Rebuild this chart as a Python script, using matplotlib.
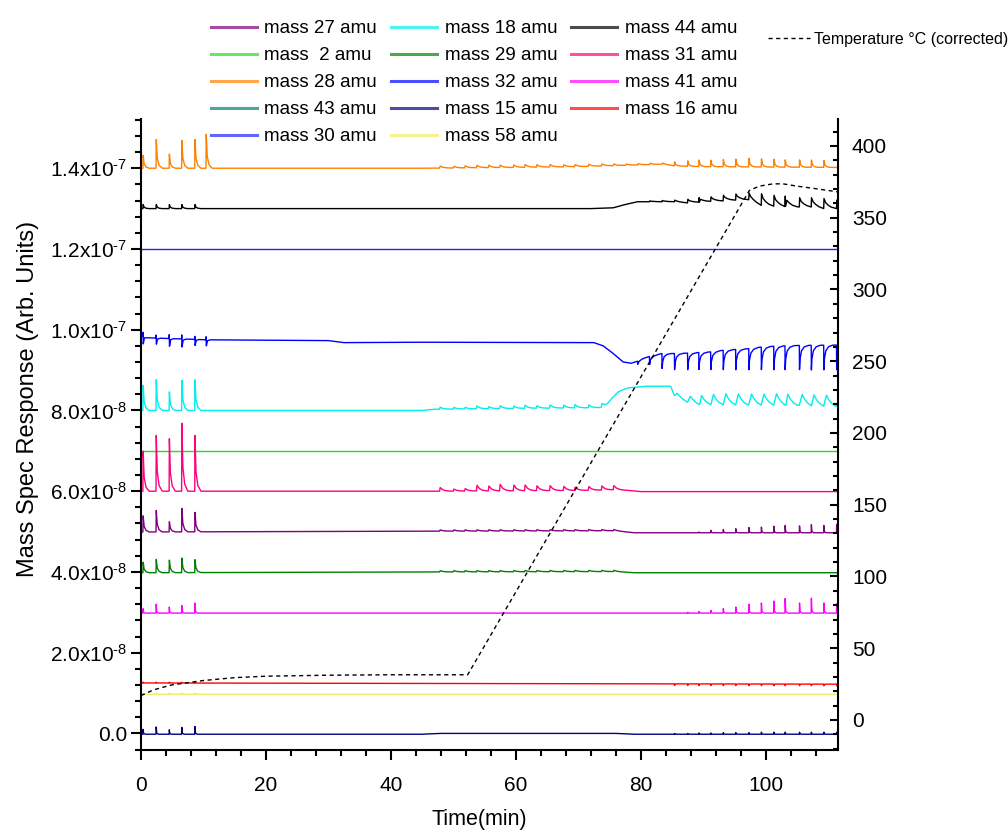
import numpy as np
import matplotlib
matplotlib.use("Agg")
import matplotlib.pyplot as plt
from matplotlib.lines import Line2D
from matplotlib.ticker import MultipleLocator, FuncFormatter

plt.rcParams['font.family'] = ['Liberation Sans', 'DejaVu Sans']
plt.rcParams['mathtext.fontset'] = 'custom'
plt.rcParams['mathtext.rm'] = 'Liberation Sans'
plt.rcParams['mathtext.default'] = 'regular'

# ---------------- data (signal values in units of 1e-8, time in min) ----------------
# injection pulse times
pulse_early = [0.3, 2.4, 4.5, 6.5, 8.6, 10.4]
pulse_run = [47.8, 50.0, 51.8, 53.7, 55.6, 57.4, 59.6, 61.4, 63.3, 65.4, 67.6, 69.4,
             71.6, 73.7, 75.6, 77.6, 79.5, 81.4, 83.4, 85.4, 87.5, 89.3, 91.2, 93.2,
             95.2, 97.3, 99.3, 101.3, 103.1, 105.4, 107.3, 109.3, 111.35]

# mass 28
m28_bt = [0, 45, 60, 70, 77, 83.4, 85.4, 90, 111.6]
m28_bv = [14.0, 14.0, 14.02, 14.04, 14.07, 14.1, 14.06, 14.04, 14.02]
m28_early = [0.32, 0.71, 0.35, 0.69, 0.71, 0.84]
m28_run = [0.05, 0.04, 0.05, 0.06, 0.06, 0.06, 0.06, 0.07, 0.06, 0.06, 0.05, 0.05,
           0.05, 0.05, 0.04, 0.03, 0.03, 0.03, 0.03,
           0.10, 0.13, 0.16, 0.16, 0.18, 0.19, 0.21, 0.20, 0.19, 0.18, 0.18, 0.18, 0.17]

# mass 44
m44_bt = [0, 45, 72, 75.6, 77.5, 79.5, 83.4, 85.4, 87.5, 89.3, 91.2, 93.2, 95.2,
          97.3, 99.3, 101.3, 103.1, 105.4, 107.3, 109.3, 111.35]
m44_bv = [13.0, 13.0, 13.0, 13.02, 13.1, 13.17, 13.17, 13.17, 13.14, 13.16, 13.18,
          13.19, 13.21, 13.22, 13.08, 13.06, 13.05, 13.04, 13.04, 13.0, 13.0]
m44_early = [0.1, 0.1, 0.1, 0.1, 0.1, 0.0]
m44_run = [0] * 15 + [0, 0, 0.02, 0.03,
                      0.04, 0.09, 0.11, 0.11, 0.14, 0.15, 0.17, 0.29, 0.27, 0.26,
                      0.23, 0.23, 0.25, 0.21]

# mass 30
m30_bt = [0, 111.6]
m30_bv = [12.0, 12.0]

# mass 32
m32_bt = [0, 1, 10.5, 30, 32.5, 45, 72.5, 74, 75.6, 77.2, 78.5, 79.5, 80.5, 83.4,
          85.4, 87.5, 91.2, 93.2, 97.3, 99.3, 101.3, 105.4, 111.6]
m32_bv = [9.86, 9.80, 9.75, 9.73, 9.68, 9.69, 9.68, 9.60, 9.41, 9.20, 9.17, 9.22,
          9.30, 9.41, 9.41, 9.42, 9.45, 9.49, 9.53, 9.57, 9.59, 9.61, 9.62]
m32_early = [-0.19, -0.15, -0.19, -0.20, -0.15, -0.15]
m32_run = [0] * 16 + [-0.08, -0.20, -0.37,
                      -0.40, -0.41, -0.42, -0.44, -0.48, -0.50, -0.52, -0.56, -0.58,
                      -0.59, -0.60, -0.61, -0.61, -0.61]

# mass 18
m18_bt = [0, 45, 47, 60, 73.5, 74.5, 75.5, 76.5, 78, 81, 84.8, 85.4, 87.4, 89.3,
          95, 105, 111.6]
m18_bv = [8.0, 8.0, 8.03, 8.05, 8.07, 8.12, 8.32, 8.47, 8.56, 8.60, 8.60, 8.37,
          8.21, 8.15, 8.14, 8.13, 8.10]
m18_early = [0.62, 0.76, 0.46, 0.75, 0.76, 0.0]
m18_run = [0.05, 0.04, 0.04, 0.07, 0.05, 0.07, 0.06, 0.08, 0.06, 0.08, 0.07, 0.08,
           0.07, 0.09, 0, 0, 0, 0, 0,
           0.09, 0.16, 0.22, 0.25, 0.27, 0.27, 0.27, 0.27, 0.28, 0.27, 0.27, 0.27,
           0.27, 0.20]

# mass 2
m2_bt = [0, 111.6]
m2_bv = [7.0, 7.0]

# mass 31
m31_bt = [0, 47, 70, 74, 76, 78, 80, 111.6]
m31_bv = [6.0, 6.0, 6.02, 6.03, 6.04, 6.02, 5.99, 5.99]
m31_early = [0.99, 1.38, 1.30, 1.68, 1.38, 0.0]
m31_run = [0.09, 0.05, 0.06, 0.14, 0.12, 0.16, 0.14, 0.14, 0.12, 0.12, 0.10, 0.08,
           0.09, 0.10, 0.10] + [0] * 18

# mass 27
m27_bt = [0, 47, 76, 79, 111.6]
m27_bv = [4.99, 5.01, 5.02, 4.97, 4.97]
m27_early = [0.40, 0.53, 0.25, 0.58, 0.48, 0.0]
m27_run = [0.03] * 15 + [0, 0, 0, 0,
                         0, 0, 0.02, 0.06, 0.08, 0.10, 0.13, 0.14, 0.16, 0.18,
                         0.17, 0.20, 0.18, 0.21]

# mass 29
m29_bt = [0, 47, 76, 79, 111.6]
m29_bv = [3.98, 4.0, 4.01, 3.98, 3.98]
m29_early = [0.26, 0.33, 0.31, 0.36, 0.32, 0.0]
m29_run = [0.03] * 15 + [0] * 18

# mass 41
m41_bt = [0, 111.6]
m41_bv = [2.98, 2.98]
m41_early = [0.11, 0.22, 0.15, 0.19, 0.25, 0.0]
m41_run = [0] * 19 + [0, 0.02, 0.04, 0.07, 0.11, 0.15, 0.22, 0.25, 0.30, 0.36,
                      0.25, 0.37, 0.25, 0.23]

# mass 16
m16_bt = [0, 111.6]
m16_bv = [1.25, 1.22]
m16_early = [0.02, 0.02, 0.02, 0.02, 0.02, 0.0]
m16_run = [0] * 19 + [-0.04] * 14

# mass 58
m58_bt = [0, 111.6]
m58_bv = [0.97, 0.97]
m58_early = [0.03, 0.03, 0.03, 0.03, 0.03, 0.0]

# mass 15
m15_bt = [0, 45, 48, 76, 79, 111.6]
m15_bv = [-0.02, -0.02, 0.0, 0.0, -0.02, -0.02]
m15_early = [0.12, 0.18, 0.11, 0.17, 0.19, 0.0]
m15_run = [0] * 19 + [0.02, 0.02, 0.03, 0.03, 0.04, 0.04, 0.04, 0.05, 0.05, 0.05,
                      0.05, 0.05, 0.05, 0.05]

# temperature (right axis, degC)
temp_t = [0, 2, 5, 10, 15, 20, 30, 40, 52.3, 97.4, 99.0, 101.2, 102.8, 105.0,
          107.6, 111.6]
temp_v = [17, 21, 24.5, 27.5, 29.5, 30.5, 31.2, 31.5, 31.5, 369, 372, 373.6,
          373.6, 372, 370.5, 368]

# ---------------- pulse shapes (time offset, fraction of amplitude) ----------------
SPIKE = [(0, 0), (0.04, 1), (0.2, 0.35), (0.5, 0.1), (1.0, 0)]
NARROW = [(0, 0), (0.03, 1), (0.12, 0.15), (0.4, 0)]
RIPPLE = [(0, 0), (0.1, 1), (0.5, 0.4), (1.0, 0.12), (1.7, 0)]
SAW = [(0, 0), (0.05, 1), (0.3, 0.6), (0.7, 0.35), (1.2, 0.15), (1.9, 0.02)]
BIPOLAR = [(0, 0), (0.02, -0.5), (0.06, 1), (0.25, 0.15), (0.7, 0)]
DIP = [(0, 0), (0.03, 1), (0.12, 0.55), (0.35, 0.22), (0.8, 0.06), (1.5, 0)]
HUMP = [(0, 0), (0.45, 1), (0.8, 0.6), (1.3, 0.25), (1.95, 0)]


def build(bt, bv, groups):
    bt = np.asarray(bt, float)
    bv = np.asarray(bv, float)
    pts, wins = [], []
    for times, amps, shape in groups:
        end = shape[-1][0]
        for t0, a in zip(times, amps):
            if a == 0:
                continue
            wins.append((t0, t0 + end))
            for dt, f in shape:
                tt = t0 + dt
                pts.append((tt, np.interp(tt, bt, bv) + f * a))
    for t, v in zip(bt, bv):
        if not any(w0 < t < w1 for w0, w1 in wins):
            pts.append((t, v))
    pts.sort(key=lambda p: p[0])
    arr = np.array(pts)
    return arr[:, 0], arr[:, 1]


traces = [
    ("mass 30 amu", "#2222ff", build(m30_bt, m30_bv, [])),
    ("mass 2 amu", "#22dd22", build(m2_bt, m2_bv, [])),
    ("mass 58 amu", "#eeee66", build(m58_bt, m58_bv, [(pulse_early, m58_early, NARROW)])),
    ("mass 16 amu", "#ff0000", build(m16_bt, m16_bv, [(pulse_early, m16_early, NARROW),
                                                      (pulse_run, m16_run, NARROW)])),
    ("mass 15 amu", "#000080", build(m15_bt, m15_bv, [(pulse_early, m15_early, NARROW),
                                                      (pulse_run, m15_run, NARROW)])),
    ("mass 41 amu", "#ff00ff", build(m41_bt, m41_bv, [(pulse_early, m41_early, NARROW),
                                                      (pulse_run, m41_run, NARROW)])),
    ("mass 29 amu", "#008000", build(m29_bt, m29_bv, [(pulse_early, m29_early, SPIKE),
                                                      (pulse_run, m29_run, RIPPLE)])),
    ("mass 27 amu", "#800080", build(m27_bt, m27_bv, [(pulse_early, m27_early, SPIKE),
                                                      (pulse_run[:19], m27_run[:19], RIPPLE),
                                                      (pulse_run[19:], m27_run[19:], NARROW)])),
    ("mass 31 amu", "#ff0080", build(m31_bt, m31_bv, [(pulse_early, m31_early, SPIKE),
                                                      (pulse_run, m31_run, RIPPLE)])),
    ("mass 18 amu", "#00eeee", build(m18_bt, m18_bv, [(pulse_early, m18_early, SPIKE),
                                                      (pulse_run[:19], m18_run[:19], RIPPLE),
                                                      (pulse_run[19:], m18_run[19:], HUMP)])),
    ("mass 32 amu", "#0000ff", build(m32_bt, m32_bv, [(pulse_early, m32_early, BIPOLAR),
                                                      (pulse_run, m32_run, DIP)])),
    ("mass 44 amu", "#000000", build(m44_bt, m44_bv, [(pulse_early, m44_early, SPIKE),
                                                      (pulse_run, m44_run, SAW)])),
    ("mass 28 amu", "#ff8000", build(m28_bt, m28_bv, [(pulse_early, m28_early, SPIKE),
                                                      (pulse_run[:19], m28_run[:19], RIPPLE),
                                                      (pulse_run[19:], m28_run[19:], SPIKE)])),
]
colors = {lab: c for lab, c, _ in traces}
colors["mass 43 amu"] = "#008080"

# ---------------- figure ----------------
fig = plt.figure(figsize=(10.08, 8.32), dpi=100)
ax = fig.add_axes([0.1399, 0.0986, 0.6915, 0.7584])
for lab, c, (x, y) in traces:
    ax.plot(x, y, color=c, lw=1.0)

ax.set_xlim(0, 111.6)
ax.set_ylim(-0.41, 15.22)
ax.xaxis.set_major_locator(MultipleLocator(20))
ax.xaxis.set_minor_locator(MultipleLocator(4))
ax.yaxis.set_major_locator(MultipleLocator(2))
ax.yaxis.set_minor_locator(MultipleLocator(0.4))


def fmt(v, pos):
    if abs(v) < 1e-9:
        return "0.0"
    if v < 10 - 1e-9:
        return f"{v:.1f}x10$^{{\\text{{-8}}}}$"
    return f"{v / 10:.1f}x10$^{{\\text{{-7}}}}$"


ax.yaxis.set_major_formatter(FuncFormatter(fmt))
for s in ["top", "right"]:
    ax.spines[s].set_visible(False)
for s in ["left", "bottom"]:
    ax.spines[s].set_linewidth(1.5)
ax.tick_params(axis="both", which="major", direction="out", length=7, width=1.5,
               labelsize=15)
ax.tick_params(axis="both", which="minor", direction="out", length=4.5, width=1.5)
ax.tick_params(axis="x", which="major", pad=11.5)
ax.tick_params(axis="y", which="major", pad=3)
ax.set_xlabel("Time(min)", fontsize=15.5)
ax.set_ylabel("Mass Spec Response (Arb. Units)", fontsize=17)
ax.xaxis.set_label_coords(0.486, -0.094)
ax.yaxis.set_label_coords(-0.147, 0.556)

ax2 = ax.twinx()
ax2.plot(temp_t, temp_v, color="black", lw=1.0, ls=(0, (3, 2.5)))
ax2.set_ylim(-20.9, 418.8)
ax2.yaxis.set_major_locator(MultipleLocator(50))
ax2.yaxis.set_minor_locator(MultipleLocator(10))
for s in ["top", "left", "bottom"]:
    ax2.spines[s].set_visible(False)
ax2.spines["right"].set_linewidth(1.5)
ax2.tick_params(axis="y", which="major", direction="in", length=6, width=1.5,
                labelsize=15, pad=10)
ax2.tick_params(axis="y", which="minor", direction="in", length=3.5, width=1.5)

# legends
order = ["mass 27 amu", "mass 2 amu", "mass 28 amu", "mass 43 amu", "mass 30 amu",
         "mass 18 amu", "mass 29 amu", "mass 32 amu", "mass 15 amu", "mass 58 amu",
         "mass 44 amu", "mass 31 amu", "mass 41 amu", "mass 16 amu"]
shown = {"mass 2 amu": "mass  2 amu"}
handles = [Line2D([], [], color=colors[k], lw=2.2, alpha=0.7) for k in order]
labels = [shown.get(k, k) for k in order]
fig.legend(handles, labels, ncol=3, loc="upper left",
           bbox_to_anchor=(211 / 1008, 1 - 20 / 832), frameon=False,
           fontsize=13.5, handlelength=2.45, handletextpad=0.4,
           columnspacing=0.75, labelspacing=0.53, borderaxespad=0, borderpad=0)
fig.legend([Line2D([], [], color="black", lw=1.0, ls=(0, (3, 2.5)))],
           ["Temperature \u00b0C (corrected)"], loc="upper left",
           bbox_to_anchor=(768 / 1008, 1 - 32 / 832), frameon=False, fontsize=11.5,
           handlelength=2.6, handletextpad=0.3, borderaxespad=0, borderpad=0)

fig.savefig("out.png", dpi=100)
